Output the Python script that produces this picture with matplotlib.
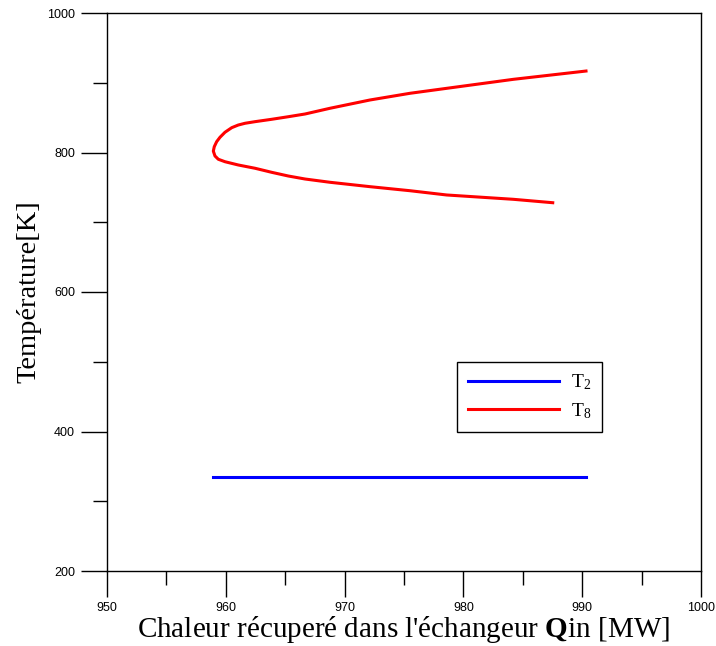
import matplotlib
matplotlib.use("Agg")
import matplotlib.pyplot as plt
from matplotlib.ticker import MultipleLocator

plt.rcParams['mathtext.fontset'] = 'custom'
plt.rcParams['mathtext.rm'] = 'Liberation Serif'
plt.rcParams['mathtext.it'] = 'Liberation Serif:italic'
plt.rcParams['mathtext.bf'] = 'Liberation Serif:bold'

# T8 curve (path from lower-right end, around the nose, to upper-right end)
t8_q = [987.52, 984.20, 978.59, 975.51, 972.14, 968.77, 966.67, 965.26, 963.86,
        962.46, 961.05, 959.93, 959.37, 959.09, 958.95,
        959.03, 959.23, 959.51, 959.93, 960.50, 961.05, 961.62, 962.46, 963.86,
        965.26, 966.67, 968.77, 972.14, 975.51, 978.59, 984.20, 990.32]
t8_T = [728.0, 732.9, 739.1, 745.2, 751.0, 757.3, 762.0, 766.3, 771.6,
        777.4, 782.1, 786.8, 790.3, 795.0, 802.0,
        808.3, 815.5, 821.8, 829.0, 835.6, 839.4, 841.9, 844.2, 847.6,
        851.3, 855.2, 863.4, 875.3, 884.9, 892.0, 904.9, 916.8]

# T2 curve
t2_q = [958.9, 987.5, 990.3]
t2_T = [334.8, 334.8, 334.8]

xlim = (950, 1000)
ylim = (200, 1000)
xticks = [950, 960, 970, 980, 990, 1000]
yticks = [200, 400, 600, 800, 1000]

fig = plt.figure(figsize=(7.16, 6.46), dpi=100)
ax = fig.add_axes([107/716, 1 - 571/646, (701-107)/716, (571-13)/646])

ax.plot(t2_q, t2_T, color='#0000ff', lw=2.2, label=r'T$_2$', solid_joinstyle='round')
ax.plot(t8_q, t8_T, color='#ff0000', lw=2.2, label=r'T$_8$', solid_joinstyle='round')

ax.set_xlim(*xlim)
ax.set_ylim(*ylim)
ax.set_xticks(xticks)
ax.set_yticks(yticks)
ax.xaxis.set_minor_locator(MultipleLocator(5))
ax.yaxis.set_minor_locator(MultipleLocator(100))
ax.tick_params(axis='both', which='major', direction='out', length=19, width=1,
               labelsize=9, top=False, right=False)
ax.tick_params(axis='both', which='minor', direction='out', length=10, width=1,
               top=False, right=False)
ax.tick_params(axis='x', pad=3.5)
ax.tick_params(axis='y', pad=4)
for lab in ax.get_xticklabels() + ax.get_yticklabels():
    lab.set_fontfamily('Liberation Sans')
for s in ax.spines.values():
    s.set_linewidth(1)

ax.set_xlabel(r"Chaleur récuperé dans l'échangeur $\mathbf{Q}$in [MW]",
              fontsize=21, family='Liberation Serif', labelpad=0)
ax.set_ylabel("Température[K]", fontsize=20.5, family='Liberation Serif', labelpad=4)

leg = ax.legend(loc='upper left', bbox_to_anchor=((457-107)/594, (571-362)/558),
                prop={'family': 'Liberation Serif', 'size': 14},
                handlelength=4.7, fancybox=False, edgecolor='black',
                framealpha=1, borderpad=0.55, labelspacing=0.45, handletextpad=0.6,
                borderaxespad=0)
leg.get_frame().set_linewidth(1)

fig.savefig('out.png', dpi=100)
